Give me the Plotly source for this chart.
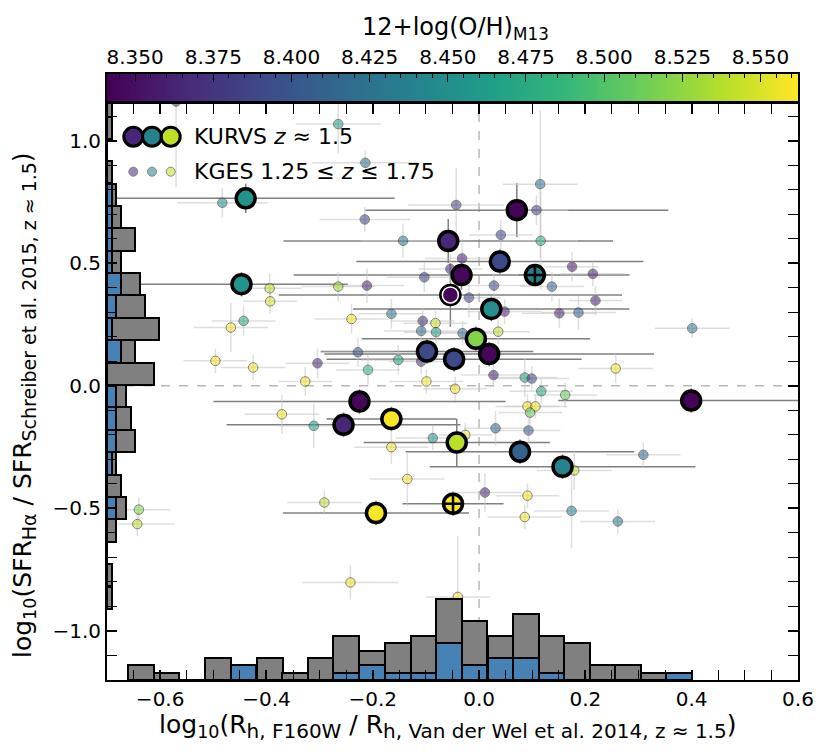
import plotly.graph_objects as go

# ---------------- data ----------------
# KURVS (large points)
kurvs_x = [-0.439, -0.447, 0.071, -0.058, 0.039, -0.033, -0.054, 0.105, 0.023, -0.006, -0.098,
           -0.047, 0.019, -0.225, -0.255, -0.165, -0.042, 0.077, 0.157, 0.399, -0.194, -0.049]
kurvs_y = [0.765, 0.415, 0.717, 0.591, 0.507, 0.452, 0.371, 0.452, 0.314, 0.192, 0.140,
           0.109, 0.130, -0.064, -0.159, -0.135, -0.231, -0.269, -0.330, -0.060, -0.519, -0.481]
kurvs_xerr = [0.28, 0.20, 0.285, 0.31, 0.27, 0.316, 0.323, 0.03, 0.26, 0.215, 0.20,
              0.24, 0.31, 0.275, 0.22, 0.122, 0.175, 0.215, 0.25, 0.25, 0.175, 0.095]
kurvs_yerr = [0.06, 0.05, 0.11, 0.09, 0.05, 0.06, 0.13, 0.03, 0.05, 0.05, 0.05,
              0.05, 0.05, 0.05, 0.05, 0.05, 0.097, 0.05, 0.05, 0.05, 0.05, 0.05]
kurvs_z = [8.455, 8.455, 8.343, 8.365, 8.39, 8.345, 8.345, 8.435, 8.45, 8.52, 8.39,
           8.39, 8.345, 8.345, 8.365, 8.56, 8.54, 8.41, 8.44, 8.343, 8.56, 8.56]
kurvs_ring = [6]        # index with white inner ring
kurvs_plus = [7, 21]    # indices with a '+' overlay

# KGES (small points)
kges_x = [-0.570, -0.265, -0.214, -0.483, -0.215, -0.043, -0.143, -0.103, -0.394, -0.265,
          -0.211, -0.393, -0.165, -0.240, -0.443, -0.467, -0.106, -0.082, -0.109, -0.081,
          -0.228, -0.304, -0.209, -0.152, -0.496, -0.425, -0.327, -0.099, -0.045, 0.115,
          0.108, 0.041, 0.116, -0.032, -0.054, 0.175, 0.028, 0.137, -0.019, 0.048,
          0.151, 0.187, -0.031, 0.036, 0.214, 0.219, 0.401, 0.027, 0.086, 0.099,
          0.257, 0.117, 0.162, 0.091, 0.106, 0.096, 0.031, 0.093, -0.087, -0.026,
          0.309, 0.179, -0.135, 0.011, 0.091, 0.086, 0.174, 0.261, -0.040, -0.109,
          -0.311, -0.165, -0.291, -0.371, -0.242, -0.640, -0.643]
kges_y = [1.160, 1.068, 0.910, 0.747, 0.679, 0.738, 0.592, 0.443, 0.398, 0.405,
          0.409, 0.345, 0.294, 0.273, 0.265, 0.238, 0.265, 0.256, 0.224, 0.219,
          0.137, 0.092, 0.065, 0.106, 0.102, 0.075, 0.018, 0.018, -0.012, 0.823,
          0.717, 0.616, 0.592, 0.520, 0.477, 0.486, 0.409, 0.405, 0.360, 0.303,
          0.296, 0.299, 0.215, 0.221, 0.457, 0.348, 0.235, 0.044, 0.034, 0.030,
          0.071, -0.022, -0.037, -0.084, -0.084, -0.109, -0.173, -0.182, -0.213, -0.200,
          -0.281, -0.345, -0.380, -0.435, -0.448, -0.535, -0.510, -0.553, -0.861, 0.099,
          -0.163, -0.250, -0.476, -0.116, -0.802, -0.505, -0.564]
kges_xerr = [0.05, 0.08, 0.10, 0.085, 0.085, 0.09, 0.08, 0.07, 0.06, 0.07,
             0.07, 0.05, 0.06, 0.07, 0.06, 0.07, 0.06, 0.06, 0.07, 0.06,
             0.07, 0.06, 0.06, 0.07, 0.06, 0.06, 0.05, 0.07, 0.06, 0.07,
             0.06, 0.06, 0.07, 0.07, 0.06, 0.05, 0.07, 0.06, 0.06, 0.07,
             0.07, 0.07, 0.06, 0.06, 0.06, 0.05, 0.07, 0.06, 0.06, 0.07,
             0.07, 0.06, 0.06, 0.06, 0.06, 0.06, 0.06, 0.06, 0.07, 0.05,
             0.07, 0.07, 0.07, 0.07, 0.06, 0.07, 0.07, 0.07, 0.06, 0.06,
             0.07, 0.07, 0.07, 0.07, 0.09, 0.06, 0.07]
kges_yerr = [0.35, 0.12, 0.05, 0.06, 0.05, 0.15, 0.07, 0.06, 0.06, 0.06,
             0.07, 0.05, 0.06, 0.06, 0.06, 0.10, 0.05, 0.05, 0.05, 0.05,
             0.06, 0.06, 0.06, 0.06, 0.05, 0.05, 0.06, 0.05, 0.05, 0.30,
             0.06, 0.06, 0.20, 0.08, 0.06, 0.06, 0.05, 0.06, 0.08, 0.05,
             0.06, 0.07, 0.05, 0.05, 0.05, 0.06, 0.04, 0.05, 0.08, 0.05,
             0.06, 0.05, 0.05, 0.05, 0.05, 0.05, 0.07, 0.05, 0.05, 0.05,
             0.05, 0.08, 0.11, 0.08, 0.05, 0.05, 0.15, 0.05, 0.25, 0.05,
             0.09, 0.07, 0.05, 0.08, 0.07, 0.05, 0.05]
kges_z = [8.37, 8.46, 8.42, 8.445, 8.385, 8.385, 8.43, 8.385, 8.54, 8.53,
          8.36, 8.55, 8.42, 8.56, 8.47, 8.56, 8.37, 8.55, 8.42, 8.47,
          8.40, 8.36, 8.48, 8.47, 8.56, 8.56, 8.56, 8.56, 8.56, 8.42,
          8.385, 8.385, 8.475, 8.36, 8.36, 8.355, 8.39, 8.41, 8.39, 8.36,
          8.36, 8.41, 8.42, 8.54, 8.36, 8.36, 8.43, 8.36, 8.47, 8.385,
          8.56, 8.47, 8.51, 8.56, 8.56, 8.51, 8.41, 8.40, 8.45, 8.56,
          8.41, 8.54, 8.56, 8.36, 8.56, 8.56, 8.44, 8.43, 8.56, 8.37,
          8.46, 8.56, 8.54, 8.56, 8.56, 8.52, 8.54]

# histogram along x (bottom): bin lower edges, width, counts
histx_lo = [-0.660, -0.612, -0.564, -0.515, -0.467, -0.418, -0.370, -0.322, -0.274, -0.226, -0.177,
            -0.129, -0.081, -0.033, 0.016, 0.064, 0.112, 0.160, 0.208, 0.256, 0.304, 0.352]
histx_w = 0.0482
histx_all = [2, 1, 0, 3, 2, 3, 1, 3, 6, 4, 5, 6, 11, 8, 6, 9, 6, 5, 2, 2, 1, 1]
histx_kurvs = [0, 0, 0, 0, 2, 0, 0, 0, 1, 2, 1, 1, 5, 2, 3, 3, 1, 0, 0, 0, 0, 1]

# histogram along y (left): bin lower edges, width, counts
histy_lo = [-0.910, -0.818, -0.727, -0.636, -0.544, -0.453, -0.362, -0.270, -0.179, -0.088, 0.004,
            0.095, 0.186, 0.278, 0.369, 0.460, 0.552, 0.643, 0.734, 0.826, 0.917, 1.008, 1.099]
histy_w = 0.0913
histy_all = [1, 1, 0, 2, 4, 3, 2, 6, 5, 4, 10, 6, 11, 8, 7, 3, 6, 3, 2, 1, 0, 1, 1]
histy_kurvs = [0, 0, 0, 0, 2, 0, 1, 2, 2, 2, 0, 3, 1, 2, 3, 1, 1, 1, 1, 0, 0, 0, 0]

cb_ticks = [8.350, 8.375, 8.400, 8.425, 8.450, 8.475, 8.500, 8.525, 8.550]
cmin, cmax = 8.341, 8.562

# ---------------- layout geometry ----------------
W, H = 830, 755
ML, MR, MT, MB = 107, 32, 30, 75
PW = W - ML - MR           # 691
PAPER_H = H - MT - MB      # 650
PLOT_TOP_PX = 104          # top of the scatter panel
PLOT_H = H - MB - PLOT_TOP_PX   # 576
CB_TOP_PX, CB_BOT_PX = 74, 101
X_RANGE = [-0.7, 0.6]
Y_RANGE = [-1.2, 1.15]
TICK_FS = 20


def px2paper(px, py):
    return (px - ML) / PW, (H - MB - py) / PAPER_H


FONT = "DejaVu Sans"
fig = go.Figure()

# KURVS error bars (drawn first, behind everything)
fig.add_trace(go.Scatter(
    x=kurvs_x, y=kurvs_y, mode="markers",
    marker=dict(size=2, opacity=0),
    error_x=dict(type="data", array=kurvs_xerr, color="#7f7f7f", thickness=1.5, width=0),
    error_y=dict(type="data", array=kurvs_yerr, color="#7f7f7f", thickness=1.5, width=0),
    showlegend=False, hoverinfo="skip"))

# KGES small points
fig.add_trace(go.Scatter(
    x=kges_x, y=kges_y, mode="markers",
    marker=dict(size=9.5, color=kges_z, coloraxis="coloraxis", opacity=0.55,
                line=dict(color="#222222", width=1)),
    error_x=dict(type="data", array=kges_xerr, color="rgba(200,200,200,0.6)", thickness=1.5, width=0),
    error_y=dict(type="data", array=kges_yerr, color="rgba(200,200,200,0.6)", thickness=1.5, width=0),
    showlegend=False))

# KURVS big points
fig.add_trace(go.Scatter(
    x=kurvs_x, y=kurvs_y, mode="markers",
    marker=dict(size=19, color=kurvs_z, coloraxis="coloraxis", opacity=1,
                line=dict(color="black", width=3.5)),
    showlegend=False))

# ring overlay
fig.add_trace(go.Scatter(
    x=[kurvs_x[i] for i in kurvs_ring], y=[kurvs_y[i] for i in kurvs_ring], mode="markers",
    marker=dict(size=16, color=[kurvs_z[i] for i in kurvs_ring], coloraxis="coloraxis",
                line=dict(color="white", width=1.5)),
    showlegend=False))

# plus overlay
fig.add_trace(go.Scatter(
    x=[kurvs_x[i] for i in kurvs_plus], y=[kurvs_y[i] for i in kurvs_plus], mode="markers",
    marker=dict(symbol="cross-thin", size=13, line=dict(color="black", width=2.5)),
    showlegend=False))

# bottom histogram (main x, overlaid count axis y2)
hx_c = [lo + histx_w / 2 for lo in histx_lo]
fig.add_trace(go.Bar(x=hx_c, y=histx_all, width=histx_w, xaxis="x", yaxis="y2",
                     marker=dict(color="#808080", line=dict(color="black", width=2)),
                     showlegend=False))
fig.add_trace(go.Bar(x=hx_c, y=histx_kurvs, width=histx_w, xaxis="x", yaxis="y2",
                     marker=dict(color="#4682b4", line=dict(color="black", width=2)),
                     showlegend=False))

# left histogram (overlaid count axis x2, main y)
hy_c = [lo + histy_w / 2 for lo in histy_lo]
fig.add_trace(go.Bar(y=hy_c, x=histy_all, width=histy_w, orientation="h", xaxis="x2", yaxis="y",
                     marker=dict(color="#808080", line=dict(color="black", width=2)),
                     showlegend=False))
fig.add_trace(go.Bar(y=hy_c, x=histy_kurvs, width=histy_w, orientation="h", xaxis="x2", yaxis="y",
                     marker=dict(color="#4682b4", line=dict(color="black", width=2)),
                     showlegend=False))

# colour bar drawn as a one-row heatmap of the colour scale
n_lev = 256
cb_levels = [cmin + (cmax - cmin) * (i + 0.5) / n_lev for i in range(n_lev)]
fig.add_trace(go.Heatmap(x=cb_levels, y=[0], z=[cb_levels], xaxis="x3", yaxis="y3",
                         colorscale="Viridis", zmin=cmin, zmax=cmax, showscale=False,
                         hoverinfo="skip"))

# count-axis scales: 1 count = 7.35 px (bottom), 4.7 px (left)
y2_max = PLOT_H / 7.35
x2_max = PW / 4.7

axis_common = dict(showgrid=False, zeroline=False, showline=True, linecolor="black", linewidth=2,
                   mirror="allticks", ticks="inside", ticklen=10, tickwidth=1.5, tickcolor="black",
                   tickfont=dict(family=FONT, size=TICK_FS, color="black"))

main_top = (H - MB - PLOT_TOP_PX) / PAPER_H
cb_dom = [(H - MB - CB_BOT_PX) / PAPER_H, (H - MB - CB_TOP_PX) / PAPER_H]

fig.update_layout(
    width=W, height=H, margin=dict(l=ML, r=MR, t=MT, b=MB, autoexpand=False),
    paper_bgcolor="white", plot_bgcolor="white",
    barmode="overlay", bargap=0,
    xaxis=dict(domain=[0, 1], range=X_RANGE, dtick=0.2, tick0=0, tickformat=".1f", anchor="y",
               minor=dict(dtick=0.05, tick0=0, ticks="inside", ticklen=5, tickwidth=1.2, tickcolor="black"),
               **axis_common),
    yaxis=dict(domain=[0, main_top], range=Y_RANGE, dtick=0.5, tick0=0, tickformat=".1f", anchor="x",
               minor=dict(dtick=0.1, tick0=0, ticks="inside", ticklen=5, tickwidth=1.2, tickcolor="black"),
               **axis_common),
    xaxis2=dict(overlaying="x", range=[0, x2_max], visible=False, anchor="y"),
    yaxis2=dict(overlaying="y", range=[0, y2_max], visible=False, anchor="x"),
    xaxis3=dict(domain=[0, 1], anchor="y3", side="top", range=[cmin, cmax],
                tickvals=cb_ticks, tickformat=".3f", ticks="inside", ticklen=8, tickwidth=1.2,
                tickcolor="black", showgrid=False, zeroline=False,
                showline=True, mirror=True, linecolor="black", linewidth=1.5,
                minor=dict(dtick=0.005, tick0=8.35, ticks="inside", ticklen=4, tickwidth=1,
                           tickcolor="black"),
                tickfont=dict(family=FONT, size=TICK_FS, color="black")),
    yaxis3=dict(domain=cb_dom, anchor="x3", range=[-0.5, 0.5], showticklabels=False, ticks="",
                showgrid=False, zeroline=False, showline=True, mirror=True,
                linecolor="black", linewidth=1.5),
    coloraxis=dict(colorscale="Viridis", cmin=cmin, cmax=cmax, showscale=False),
    showlegend=False,
)

# colour bar title
tx, ty = px2paper(455, 28)
fig.add_annotation(x=tx, y=ty, xref="paper", yref="paper", text="12+log(O/H)<sub>M13</sub>",
                   showarrow=False, xanchor="center", yanchor="middle",
                   font=dict(family=FONT, size=24, color="black"))

# dashed reference lines
fig.add_shape(type="line", xref="x", yref="y", x0=0, x1=0, y0=Y_RANGE[0], y1=Y_RANGE[1],
              line=dict(color="#b8b8b8", width=1.5, dash="dash"), layer="below")
fig.add_shape(type="line", xref="x", yref="y", x0=X_RANGE[0], x1=X_RANGE[1], y0=0, y1=0,
              line=dict(color="#b8b8b8", width=1.5, dash="dash"), layer="below")

# legend glyphs
leg_cols = ["#482677", "#25838e", "#bddf26"]
for i, c in enumerate(leg_cols):
    ax, ay = px2paper(133.3 + 18.7 * i, 136.7)
    fig.add_shape(type="circle", xref="paper", yref="paper", xsizemode="pixel", ysizemode="pixel",
                  xanchor=ax, yanchor=ay, x0=-9.5, x1=9.5, y0=-9.5, y1=9.5,
                  fillcolor=c, line=dict(color="black", width=3))
    bx, by = px2paper(133.3 + 18.7 * i, 171.7)
    fig.add_shape(type="circle", xref="paper", yref="paper", xsizemode="pixel", ysizemode="pixel",
                  xanchor=bx, yanchor=by, x0=-4.5, x1=4.5, y0=-4.5, y1=4.5,
                  fillcolor=c, opacity=0.55, line=dict(color="#222222", width=1))

for txt, py in [("KURVS <i>z</i> ≈ 1.5", 136.7), ("KGES 1.25 ≤ <i>z</i> ≤ 1.75", 171.7)]:
    tx, ty = px2paper(192, py)
    fig.add_annotation(x=tx, y=ty, xref="paper", yref="paper", text=txt, showarrow=False,
                       xanchor="left", yanchor="middle", font=dict(family=FONT, size=22, color="black"))

# axis titles
SUBX = "<span style='font-size:20px'>{}</span>"
tx, ty = px2paper(157, 726)
fig.add_annotation(x=tx, y=ty, xref="paper", yref="paper", showarrow=False,
                   text=("log<sub>10</sub>(R<sub>" + SUBX.format("h, F160W") + "</sub> / R<sub>"
                         + SUBX.format("h, Van der Wel et al. 2014, z ≈ 1.5") + "</sub>)"),
                   xanchor="left", yanchor="middle", font=dict(family=FONT, size=25, color="black"))
SUBY = "<span style='font-size:19px'>{}</span>"
tx, ty = px2paper(24, 660)
fig.add_annotation(x=tx, y=ty, xref="paper", yref="paper", showarrow=False, textangle=-90,
                   text=("log<sub>10</sub>(SFR<sub>" + SUBY.format("Hα") + "</sub> / SFR<sub>"
                         + SUBY.format("Schreiber et al. 2015, z ≈ 1.5") + "</sub>)"),
                   xanchor="center", yanchor="bottom", font=dict(family=FONT, size=25, color="black"))

fig.write_html("out.html", config={"displayModeBar": False},
               post_script="document.body.style.margin='0';document.body.style.padding='0';")
